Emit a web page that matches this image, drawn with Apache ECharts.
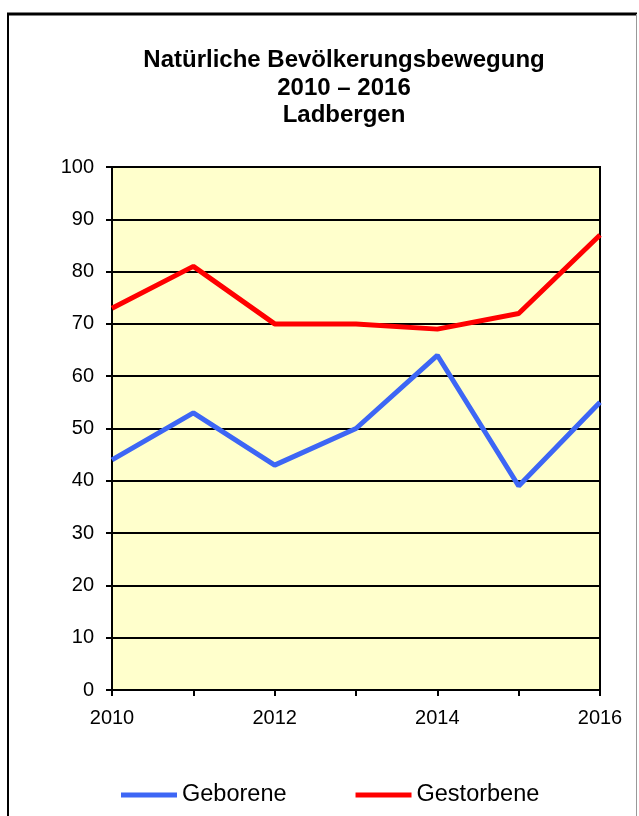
<!DOCTYPE html>
<html>
<head>
<meta charset="utf-8">
<script src="https://cdn.jsdelivr.net/npm/echarts@6/dist/echarts.min.js"></script>
<style>
  html, body { margin: 0; padding: 0; background: #fff; }
  #chart { width: 639px; height: 816px; }
</style>
</head>
<body>
<div id="chart"></div>
<script>
// Natürliche Bevölkerungsbewegung, Ladbergen
const years = ["2010", "2011", "2012", "2013", "2014", "2015", "2016"];
const geborene = [44, 53, 43, 50, 64, 39, 55];
const gestorbene = [73, 81, 70, 70, 69, 72, 87];

const chart = echarts.init(document.getElementById("chart"));
const font = "Liberation Sans, Arial, sans-serif";

chart.setOption({
  animation: false,
  textStyle: { fontFamily: font, color: "#000" },
  title: {
    text: "Natürliche Bevölkerungsbewegung\n2010 – 2016\nLadbergen",
    left: 339,
    top: 42,
    textAlign: "center",
    textStyle: { fontSize: 24, fontWeight: "bold", lineHeight: 27.5, color: "#000", fontFamily: font }
  },
  graphic: [
    { type: "line", shape: { x1: 7, y1: 14, x2: 637, y2: 14 }, style: { stroke: "#000", lineWidth: 3 } },
    { type: "line", shape: { x1: 8, y1: 14, x2: 8, y2: 816 }, style: { stroke: "#000", lineWidth: 2 } },
    { type: "line", shape: { x1: 636.5, y1: 14, x2: 636.5, y2: 816 }, style: { stroke: "#999", lineWidth: 1 } }
  ],
  grid: {
    left: 112, right: 39, top: 167, bottom: 126,
    show: true, backgroundColor: "#FFFFCC", borderColor: "#000", borderWidth: 2
  },
  legend: {
    data: ["Geborene", "Gestorbene"],
    top: 778,
    left: 116,
    icon: "rect",
    itemWidth: 56,
    itemHeight: 5,
    itemGap: 69,
    textStyle: { fontSize: 23.5, color: "#000", fontFamily: font }
  },
  xAxis: {
    type: "category",
    data: years,
    boundaryGap: false,
    axisLine: { lineStyle: { color: "#000", width: 2 } },
    axisTick: { show: true, interval: 0, length: 6, lineStyle: { color: "#000", width: 2 } },
    axisLabel: { interval: 1, fontSize: 20, color: "#000", margin: 18 },
    splitLine: { show: false }
  },
  yAxis: {
    type: "value",
    min: 0, max: 100, interval: 10,
    axisLine: { show: true, lineStyle: { color: "#000", width: 2 } },
    axisTick: { show: true, length: 6, lineStyle: { color: "#000", width: 2 } },
    axisLabel: { fontSize: 20, color: "#000", margin: 18 },
    splitLine: { show: true, lineStyle: { color: "#000", width: 2 } }
  },
  series: [
    {
      name: "Geborene",
      type: "line",
      data: geborene,
      symbol: "none",
      color: "#3D66F5",
      lineStyle: { color: "#3D66F5", width: 5 }
    },
    {
      name: "Gestorbene",
      type: "line",
      data: gestorbene,
      symbol: "none",
      color: "#FF0000",
      lineStyle: { color: "#FF0000", width: 5 }
    }
  ]
});
</script>
</body>
</html>
